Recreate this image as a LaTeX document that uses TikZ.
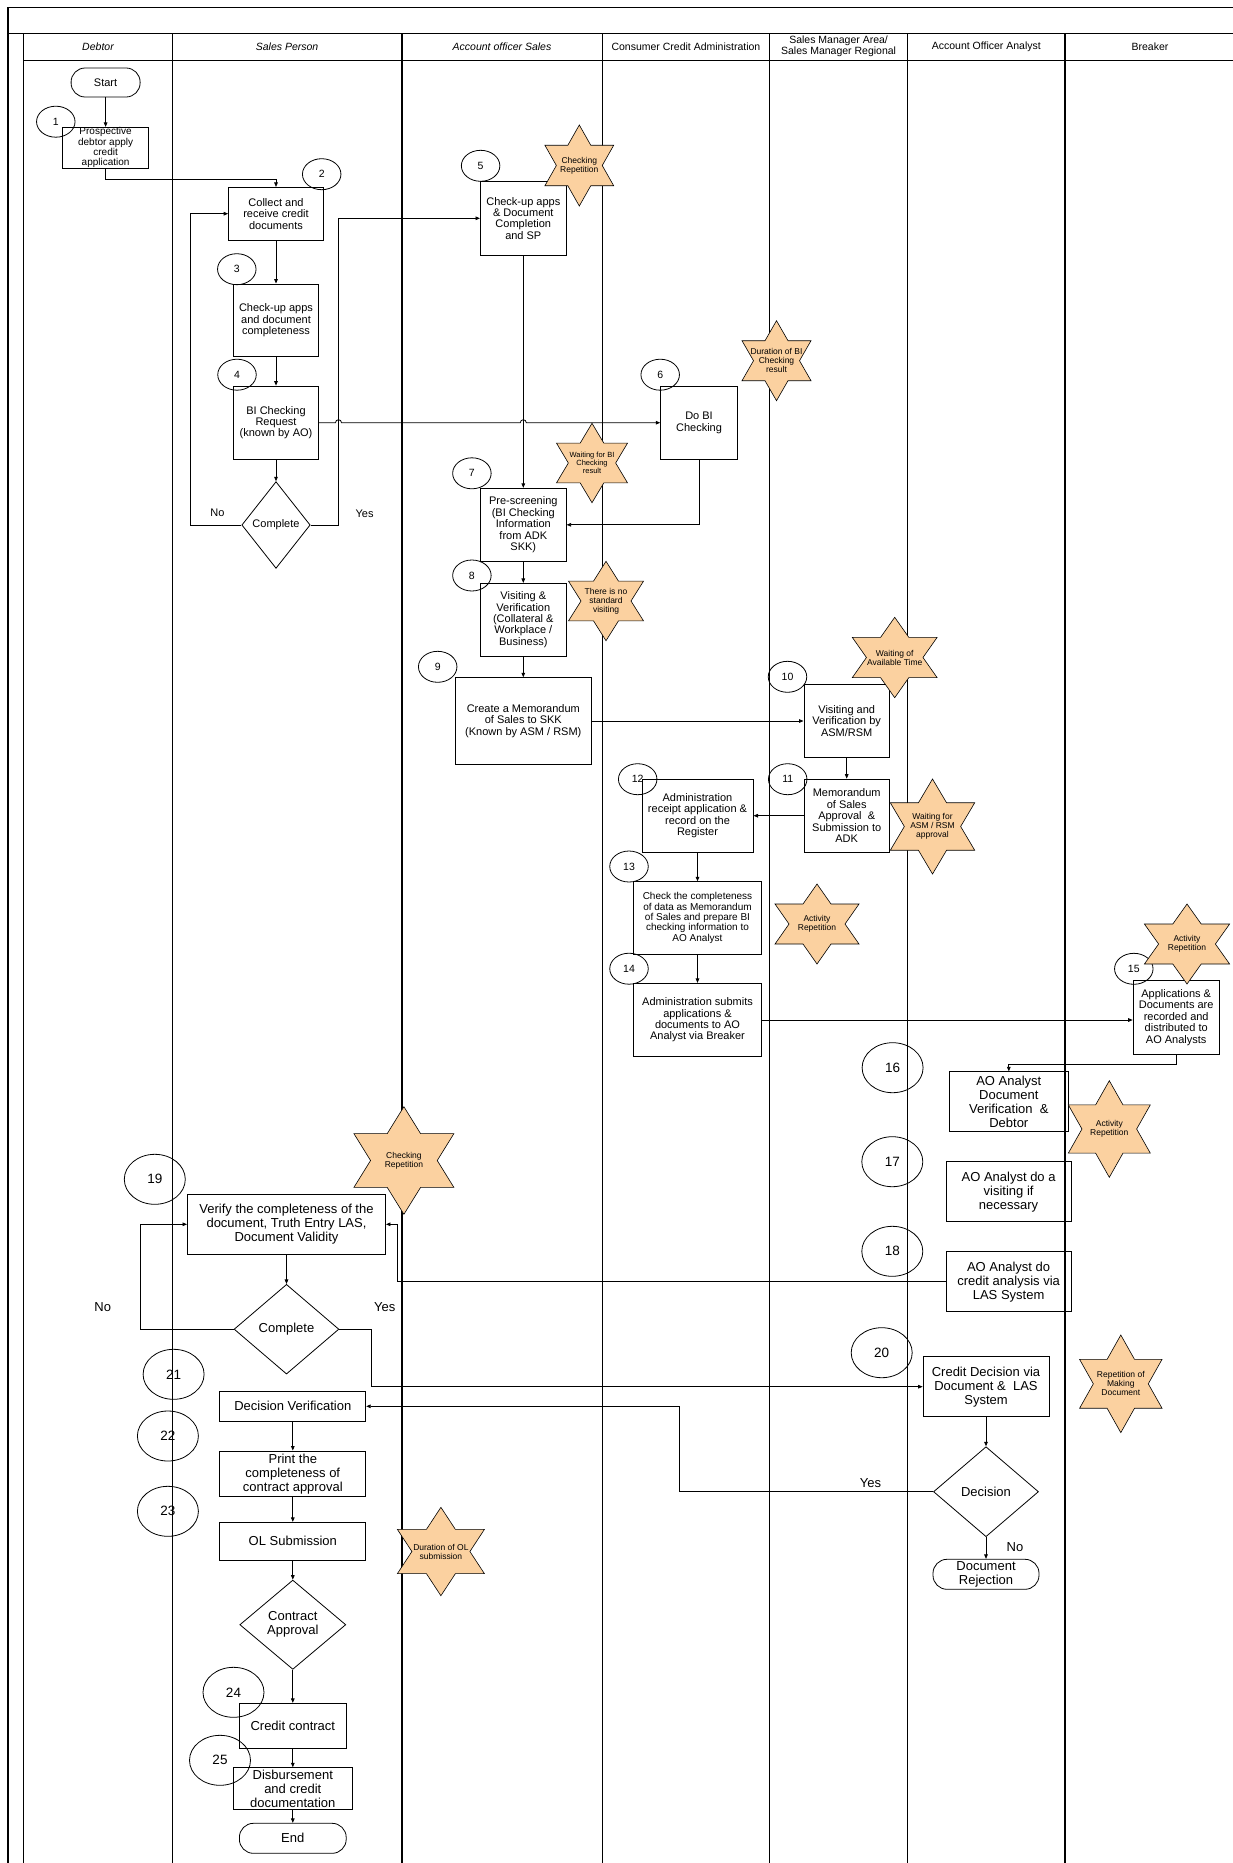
\documentclass[tikz,border=0pt]{standalone}
\usepackage{fontspec}
\setmainfont{Liberation Sans}
\usetikzlibrary{calc, positioning}
\usetikzlibrary{arrows.meta}
\usetikzlibrary{shapes.geometric}
\definecolor{starfill}{RGB}{251,209,160}
\newcommand{\boxfont}{\fontsize{11}{11.4}\selectfont}
\newcommand{\smallboxfont}{\fontsize{10}{10.4}\selectfont}
\newcommand{\bigfont}{\fontsize{13}{14}\selectfont}
\newcommand{\notefont}{\fontsize{8.5}{9}\selectfont}
\newcommand{\headfont}{\fontsize{10.5}{11}\selectfont}
\newcommand{\hexstar}[6][]{%
  \draw[starline] #3 ++(0,-#5) -- ++({#4/3},{#5/2}) -- ++({2*#4/3},0) -- ++({-#4/3},{#5/2})
    -- ++({#4/3},{#5/2}) -- ++({-2*#4/3},0) -- ++({-#4/3},{#5/2}) -- ++({-#4/3},{-#5/2})
    -- ++({-2*#4/3},0) -- ++({#4/3},{-#5/2}) -- ++({-#4/3},{-#5/2}) -- ++({2*#4/3},0) -- cycle;
  \node[note,#1] (#2) at #3 {#6};}

\begin{document}
\begin{tikzpicture}[x=1pt,y=-1pt,
  lane/.style={line width=1.2pt},
  proc/.style={draw, line width=0.8pt, rectangle, inner sep=0pt, align=center, font=\boxfont},
  bigproc/.style={proc, font=\bigfont},
  term/.style={proc, rounded corners=14pt},
  dec/.style={draw, line width=0.8pt, diamond, inner sep=0pt, align=center, font=\boxfont},
  num/.style={draw, line width=0.8pt, ellipse, inner sep=0pt, minimum width=38.5pt, minimum height=31pt, font=\fontsize{10.5}{12}\selectfont},
  bignum/.style={num, minimum width=61pt, minimum height=50pt, font=\fontsize{13.5}{15}\selectfont},
  starline/.style={draw, line width=0.6pt, fill=starfill, line join=miter},
  note/.style={align=center, font=\notefont, inner sep=0pt},
  conn/.style={draw, line width=0.8pt, -{Triangle[length=4.5pt,width=3.6pt]}},
  lbl/.style={font=\boxfont, inner sep=0pt}]
\useasboundingbox (0,0) rectangle (1233,1863);

\draw[lane] (7.9,7.3) -- (1233,7.3);
\draw[lane] (7.9,7.3) -- (7.9,1863);
\draw[lane] (7.9,33.3) -- (1233,33.3);
\draw[lane] (23.7,33.3) -- (23.7,1863);
\draw[line width=1pt] (23.7,60) -- (1233,60);
\foreach \x in {172.3,401.9,602.2,769.6,907.6}
  \draw[lane] (\x,33.3) -- (\x,1863);
\draw[line width=2pt] (1065,33.3) -- (1065,1863);

\node[font=\headfont\itshape] (H1) at (98,46.5) {Debtor};
\node[font=\headfont\itshape] (H2) at (287.1,46.5) {Sales Person};
\node[font=\headfont\itshape] (H3) at (502,46.5) {Account officer Sales};
\node[font=\headfont] (H4) at (685.9,46.5) {Consumer Credit Administration};
\node[font=\headfont, align=center] (H5) at (838.6,46.5) {Sales Manager Area/\\Sales Manager Regional};
\node[font=\headfont] (H6) at (986.3,46.5) {Account Officer Analyst};
\node[font=\headfont] (H7) at (1150,46.5) {Breaker};

\node[term, minimum width=69pt, minimum height=29pt] (Start) at (105.6,82.5) {Start};
\node[proc, font=\smallboxfont, minimum width=86.2pt, minimum height=41pt] (B1) at (105.6,147.8) {Prospective\\debtor apply\\credit\\application};
\node[proc, minimum width=94.9pt, minimum height=52.7pt] (B2) at (276,213.7) {Collect and\\receive credit\\documents};
\node[proc, minimum width=85.4pt, minimum height=72.7pt] (B3) at (276,320.3) {Check-up apps\\and document\\completeness};
\node[proc, minimum width=85.4pt, minimum height=73.3pt] (B4) at (276,422.7) {BI Checking\\Request\\(known by AO)};
\node[dec, minimum width=68.4pt, minimum height=86.7pt] (D1) at (276,525) {Complete};
\node[proc, minimum width=85.8pt, minimum height=73.3pt] (B5) at (523.3,218.3) {Check-up apps\\\& Document\\Completion\\and SP};
\node[proc, minimum width=76.7pt, minimum height=73.3pt] (B6) at (699,422.7) {Do BI\\Checking};
\node[proc, minimum width=85.8pt, minimum height=73pt] (B7) at (523.3,524.8) {Pre-screening\\(BI Checking\\Information\\from ADK\\SKK)};
\node[proc, minimum width=85.8pt, minimum height=72.7pt] (B8) at (523.3,619.7) {Visiting \&\\Verification\\(Collateral \&\\Workplace /\\Business)};
\node[proc, minimum width=135.6pt, minimum height=86.6pt] (B9) at (523.3,721) {Create a Memorandum\\of Sales to SKK\\(Known by ASM / RSM)};
\node[proc, minimum width=85.6pt, minimum height=73.3pt] (B10) at (846.7,720.7) {Visiting and\\Verification by\\ASM/RSM};
\node[proc, minimum width=85.4pt, minimum height=73.3pt] (B11) at (846.7,815.7) {Memorandum\\of Sales\\Approval \ \&\\Submission to\\ADK};
\node[proc, minimum width=111.2pt, minimum height=73.3pt] (B12) at (697.5,815.7) {Administration\\receipt application \&\\record on the\\Register};
\node[proc, font=\smallboxfont, minimum width=128.7pt, minimum height=72.6pt] (B13) at (697.5,918) {Check the completeness\\of data as Memorandum\\of Sales and prepare BI\\checking information to\\AO Analyst};
\node[proc, minimum width=128.7pt, minimum height=73.4pt] (B14) at (697.5,1020) {Administration submits\\applications \&\\documents to AO\\Analyst via Breaker};
\node[proc, minimum width=86.2pt, minimum height=73.3pt] (B15) at (1176.2,1017.4) {Applications \&\\Documents are\\recorded and\\distributed to\\AO Analysts};
\node[bigproc, minimum width=118.7pt, minimum height=59.3pt] (B16) at (1008.8,1101.4) {AO Analyst\\Document\\Verification \ \&\\Debtor};
\node[bigproc, minimum width=125.1pt, minimum height=60pt] (B17) at (1008.6,1191.7) {AO Analyst do a\\visiting if\\necessary};
\node[bigproc, minimum width=125.1pt, minimum height=60pt] (B18) at (1008.6,1281.7) {AO Analyst do\\credit analysis via\\LAS System};
\node[bigproc, minimum width=198.1pt, minimum height=60pt] (B19) at (286.5,1224.3) {Verify the completeness of the\\document, Truth Entry LAS,\\Document Validity};
\node[dec, font=\bigfont, minimum width=104.8pt, minimum height=89.7pt] (D2) at (286.5,1329.2) {Complete};
\node[bigproc, minimum width=125.9pt, minimum height=60pt] (B20) at (986,1386.7) {Credit Decision via\\Document \& \ LAS\\System};
\node[dec, font=\bigfont, minimum width=105pt, minimum height=90pt] (D3) at (986,1491.7) {Decision};
\node[term, font=\bigfont, minimum width=106pt, minimum height=30pt] (Rej) at (986,1574.3) {Document\\Rejection};
\node[bigproc, minimum width=146pt, minimum height=30.7pt] (B21) at (292.8,1406.3) {Decision Verification};
\node[bigproc, minimum width=146pt, minimum height=45.7pt] (B22) at (292.8,1473.8) {Print the\\completeness of\\contract approval};
\node[bigproc, minimum width=146pt, minimum height=38pt] (B23) at (292.8,1541.3) {OL Submission};
\node[dec, font=\bigfont, minimum width=106pt, minimum height=89.3pt] (D4) at (292.8,1624.7) {Contract\\Approval};
\node[bigproc, minimum width=106.8pt, minimum height=45pt] (B24) at (292.8,1725.8) {Credit contract};
\node[bigproc, minimum width=119pt, minimum height=41.6pt] (B25) at (292.8,1788.5) {Disbursement\\and credit\\documentation};
\node[term, font=\bigfont, minimum width=106.8pt, minimum height=30pt] (End) at (292.8,1838.3) {End};

\node[num] (C1) at (55.8,121.7) {1};
\node[num] (C2) at (321.7,174.2) {2};
\node[num] (C3) at (236.8,269.2) {3};
\node[num] (C4) at (237,374.7) {4};
\node[num] (C5) at (480.6,165.8) {5};
\node[num] (C6) at (660.2,374.7) {6};
\node[num] (C7) at (471.9,473.3) {7};
\node[num] (C8) at (471.9,575.5) {8};
\node[num] (C9) at (437.7,666.8) {9};
\node[num] (C10) at (787.5,676.8) {10};
\node[num] (C11) at (787.7,779.2) {11};
\node[num] (C12) at (637.7,779.2) {12};
\node[num] (C13) at (629,866.5) {13};
\node[num] (C14) at (629,968.7) {14};
\node[num] (C15) at (1133.8,968.8) {15};
\node[bignum] (C16) at (892.6,1067.7) {16};
\node[bignum] (C17) at (892.3,1161.7) {17};
\node[bignum] (C18) at (892.3,1251.3) {18};
\node[bignum] (C19) at (154.8,1179.3) {19};
\node[bignum] (C20) at (881.7,1352.7) {20};
\node[bignum] (C21) at (173.6,1374.3) {21};
\node[bignum] (C22) at (167.9,1436) {22};
\node[bignum] (C23) at (167.9,1511.3) {23};
\node[bignum] (C24) at (233.5,1692.3) {24};
\node[bignum] (C25) at (220,1760.3) {25};

\coordinate (N1) at (190.2,525);
\coordinate (Y1) at (338.5,525);
\coordinate (R18) at (397.4,1281.7);
\coordinate (N2) at (140.8,1329.2);
\coordinate (Y2) at (371.7,1386.7);
\coordinate (Y3) at (679.1,1491.7);

\draw[conn] (Start) -- (B1);
\draw[conn] (B1.south) -- ++(0,10.5) -| (B2.north);
\draw[conn] (B2) -- (B3);
\draw[conn] (B3) -- (B4);
\draw[conn] (B4) -- (D1);
\draw[conn] (D1.west) -- (N1) |- (B2.west);
\draw[conn] (D1.east) -- (Y1) |- (B5.west);
\draw[conn] (B4.east) -- ($(Y1 |- B4.east)+(-3,0)$) arc[start angle=180,end angle=0,radius=3pt]
  -- ($(B5.south |- B4.east)+(-3,0)$) arc[start angle=180,end angle=0,radius=3pt] -- (B6.west);
\draw[conn] (B5) -- (B7);
\draw[conn] (B6.south) |- (B7.east);
\draw[conn] (B7) -- (B8);
\draw[conn] (B8) -- (B9);
\draw[conn] (B9.east) -- (B9.east -| B10.west);
\draw[conn] (B10) -- (B11);
\draw[conn] (B11.west) -- (B12.east);
\draw[conn] (B12) -- (B13);
\draw[conn] (B13) -- (B14);
\draw[conn] (B14.east) -- (B14.east -| B15.west);
\draw[conn] (B15.south) -- ++(0,10) -| (B16.north);
\draw[conn] (B18.west) -- (R18) |- (B19.east);
\draw[conn] (B19) -- (D2);
\draw[conn] (D2.west) -- (N2) |- (B19.west);
\draw[conn] (D2.east) -| (Y2) -- (B20.west);
\draw[conn] (B20) -- (D3);
\draw[conn] (D3.west) -- (Y3) |- (B21.east);
\draw[conn] (D3) -- (Rej);
\draw[conn] (B21) -- (B22);
\draw[conn] (B22) -- (B23);
\draw[conn] (B23) -- (D4);
\draw[conn] (D4) -- (B24);
\draw[conn] (B24) -- (B25);
\draw[conn] (B25) -- (End);

\node[lbl] (LN1) at (217.5,512.7) {No};
\node[lbl] (LY1) at (364.6,513.3) {Yes};
\node[lbl, font=\bigfont] (LN2) at (102.8,1307.3) {No};
\node[lbl, font=\bigfont] (LY2) at (384.7,1307.3) {Yes};
\node[lbl, font=\bigfont] (LY3) at (870.5,1483.3) {Yes};
\node[lbl, font=\bigfont] (LN3) at (1015,1547.3) {No};

\hexstar{S1}{(579.3,165.5)}{34.4}{40.5}{Checking\\Repetition}
\hexstar{S2}{(776.5,360.7)}{34.5}{40}{Duration of BI\\Checking\\result}
\hexstar[font=\fontsize{7.5}{8}\selectfont]{S3}{(592,463)}{35.5}{39.7}{Waiting for BI\\Checking\\result}
\hexstar{S4}{(606,601)}{37.5}{39.7}{There is no\\standard\\visiting}
\hexstar{S5}{(894.7,657.5)}{42.4}{40.2}{Waiting of\\Available Time}
\hexstar{S6}{(932.5,826.5)}{42.2}{47.5}{Waiting for\\ASM / RSM\\approval}
\hexstar{S7}{(817,924)}{42}{40}{Activity\\Repetition}
\hexstar{S8}{(1187,944)}{42.6}{40}{Activity\\Repetition}
\hexstar{S9}{(1109.3,1129)}{41}{48.3}{Activity\\Repetition}
\hexstar{S10}{(403.9,1160.5)}{50}{53.8}{Checking\\Repetition}
\hexstar{S11}{(1120.8,1383.8)}{41.2}{48.8}{Repetition of\\Making\\Document}
\hexstar{S12}{(440.9,1551.5)}{43.5}{44.2}{Duration of OL\\submission}
\end{tikzpicture}
\end{document}
